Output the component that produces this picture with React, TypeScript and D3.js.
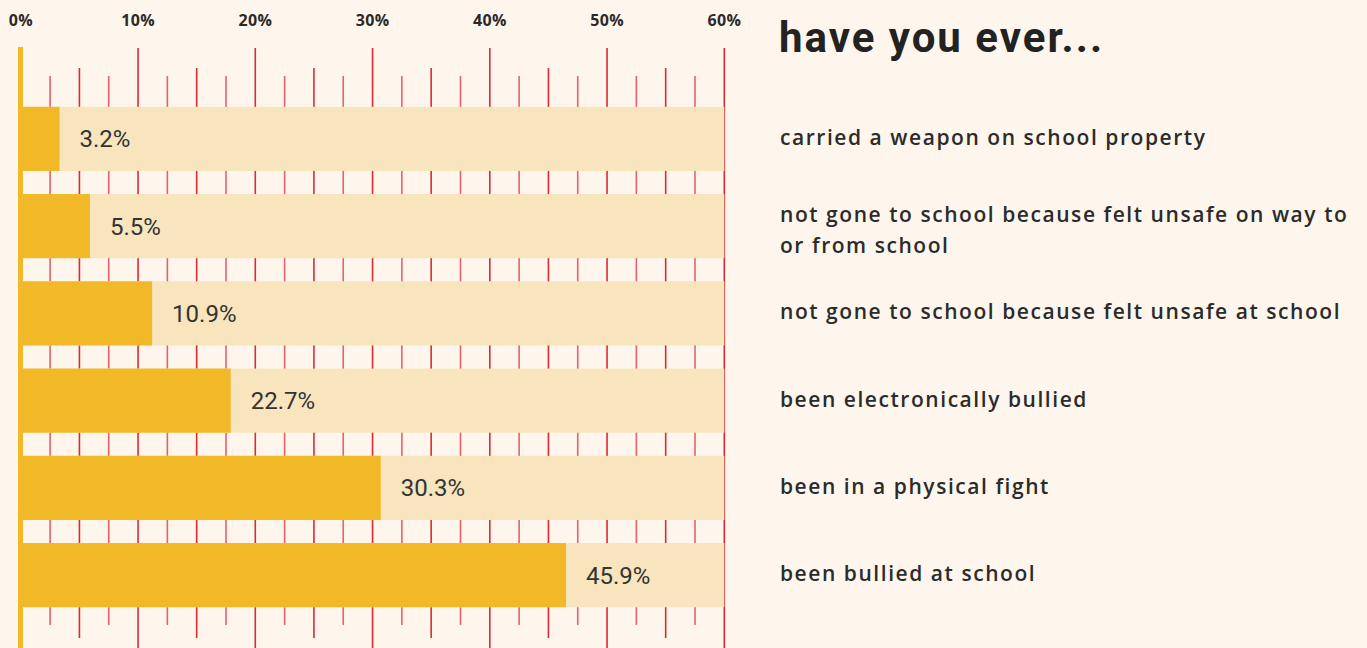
import React, { useEffect } from "react";
import * as d3 from "d3";

const categories: string[][] = [
  ["carried a weapon on school property"],
  ["not gone to school because felt unsafe on way to", "or from school"],
  ["not gone to school because felt unsafe at school"],
  ["been electronically bullied"],
  ["been in a physical fight"],
  ["been bullied at school"],
];
// percentages printed next to each bar
const valueLabels: number[] = [3.2, 5.5, 10.9, 22.7, 30.3, 45.9];
// bar lengths as drawn in the picture (percent)
const barValues: number[] = [3.3, 5.9, 11.2, 17.9, 30.7, 46.5];
const axisTicks: number[] = [0, 10, 20, 30, 40, 50, 60];
const rulerTicks: number[] = d3.range(2.5, 60.01, 2.5);

const W = 1367;
const H = 648;

export default function App() {
  useEffect(() => {
    document.body.style.margin = "0";
    document.body.style.background = "#fef6ec";
  }, []);

  const x = d3.scaleLinear().domain([0, 60]).range([20.8, 724.3]);
  const y = d3
    .scaleBand<number>()
    .domain(d3.range(categories.length))
    .range([85, 629])
    .paddingInner(0.265)
    .paddingOuter(0.25);
  const bh = y.bandwidth();
  const barX0 = 18;

  const tickKind = (t: number) =>
    Math.abs(t % 10) < 0.01 ? "major" : Math.abs(t % 5) < 0.01 ? "mid" : "minor";

  return (
    <svg width={W} height={H} style={{ display: "block", background: "#fef6ec" }}>
      <rect x={0} y={0} width={W} height={H} fill="#fef6ec" />
      {/* ruler ticks */}
      {rulerTicks.map((t) => {
        const k = tickKind(t);
        const y1 = k === "major" ? 48 : k === "mid" ? 68 : 76;
        const y2 = k === "major" ? 660 : k === "mid" ? 638 : 625;
        return (
          <line
            key={t}
            x1={x(t)}
            x2={x(t)}
            y1={y1}
            y2={y2}
            stroke={k === "minor" ? "#e5626a" : "#dc2a33"}
            strokeWidth={1.6}
          />
        );
      })}
      {/* axis tick labels */}
      {axisTicks.map((t) => (
        <text
          key={t}
          x={x(t)}
          y={25.5}
          textAnchor="middle"
          fontFamily="'Open Sans', sans-serif"
          fontWeight={700}
          fontSize={16}
          letterSpacing={0.3}
          fill="#2a2a2a"
        >
          {t}%
        </text>
      ))}
      {/* background bars */}
      {categories.map((_, i) => (
        <rect
          key={"bg" + i}
          x={barX0}
          y={y(i)!}
          width={x(60) - barX0}
          height={bh}
          fill="#f8e4bd"
        />
      ))}
      {/* value bars */}
      {barValues.map((v, i) => (
        <rect
          key={"v" + i}
          x={barX0}
          y={y(i)!}
          width={x(v) - barX0}
          height={bh}
          fill="#f1b827"
        />
      ))}
      {/* axis line */}
      <rect x={18} y={47} width={5} height={H - 47} fill="#f1b827" />
      {/* value labels */}
      {valueLabels.map((v, i) => (
        <text
          key={"l" + i}
          x={x(barValues[i]) + 20}
          y={y(i)! + bh / 2 + 8.5}
          fontFamily="Roboto, sans-serif"
          fontWeight={400}
          fontSize={24}
          fill="#333333"
        >
          {d3.format(".1f")(v)}%
        </text>
      ))}
      {/* title */}
      <text
        x={779}
        y={52}
        fontFamily="Roboto, sans-serif"
        fontWeight={700}
        fontSize={42}
        letterSpacing={2}
        fill="#222222"
      >
        have you ever...
      </text>
      {/* category labels */}
      {categories.map((lines, i) => {
        const cy = y(i)! + bh / 2;
        const first = lines.length === 1 ? cy + 6 : cy - 4;
        return (
          <text
            key={"c" + i}
            fontFamily="'Open Sans', sans-serif"
            fontWeight={600}
            fontSize={21}
            letterSpacing={1.55}
            fill="#2b2b2b"
          >
            {lines.map((ln, j) => (
              <tspan key={j} x={780} y={first + j * 31}>
                {ln}
              </tspan>
            ))}
          </text>
        );
      })}
    </svg>
  );
}
